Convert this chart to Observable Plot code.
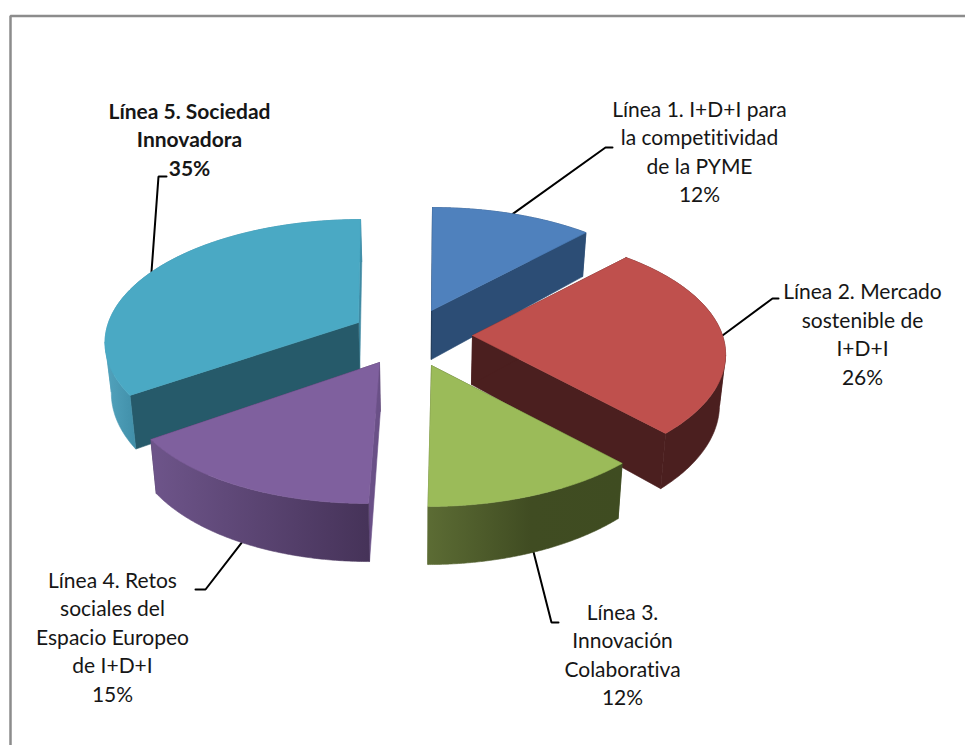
<!DOCTYPE html>
<html><head><meta charset="utf-8">
<script src="https://cdn.jsdelivr.net/npm/d3@7"></script>
<script src="https://cdn.jsdelivr.net/npm/@observablehq/plot@0.6"></script>
<style>html,body{margin:0;padding:0;background:#fff;overflow:hidden} svg text{font-variant-ligatures:none}</style>
</head><body><div id="chart"></div>
<script>
// Chart values
const lineas = [
  "Línea 1. I+D+I para\nla competitividad\nde la PYME",
  "Línea 2. Mercado\nsostenible de\nI+D+I",
  "Línea 3.\nInnovación\nColaborativa",
  "Línea 4. Retos\nsociales del\nEspacio Europeo\nde I+D+I",
  "Línea 5. Sociedad\nInnovadora"
];
const shares = [12, 26, 12, 15, 35];

// Styling
const topColors = ["#4f81bd", "#bf504d", "#9bbb59", "#7f609e", "#4aa9c4"];
const startWall = ["#1d3554", "#4b1f1f", "#3f4c21", "#6a5087", "#265a6a"];
const endWall   = ["#2c4d75", "#4b1f1f", "#5c6c34", "#463359", "#3f8aa3"];
// horizontal shading of each outer wall: [pixel x, colour] stops
const sideStops = [
  [[430, "#2c4d75"], [590, "#2c4d75"]],
  [[470, "#4b1f1f"], [725, "#4b1f1f"]],
  [[427, "#5c6c34"], [530, "#404c22"], [622, "#3f4c21"]],
  [[155, "#6d5489"], [367, "#463359"]],
  [[105, "#52a3bd"], [139, "#3e8ca6"]]
];

// Pie layout (pixels on identity scales)
const apexX = [431, 472, 431, 379, 358];
const apexY = [310, 335, 365, 362, 322];
const leanX = [-0.01, 0.0, -0.025, -0.078, -0.02];
const startNudge = [0, 0, 0, 0, 0.035]; // radians
const drawOrder = [0, 4, 1, 3, 2];
const RX = 250, RY = 119, PERSP = 0.156, DEPTH = 49, VX = 420, CONVERGE = 0.02;
const labelX = [699, 862, 622, 112, 189];
const labelY = [150, 332.5, 653, 635, 137.5];
const elbows = [[[605,147],[612,147]], [[772,298],[778,298]], [[551,622],[558,622]], [[205,589],[195,589]], [[158,176],[166,176]]];

const total = d3.sum(shares);
const deg = d3.cumsum([0, ...shares]).map(v => v / total * 2 * Math.PI);

function project(i, t, bottom) {
  const s = 1 / (1 + PERSP * Math.cos(t));
  const dy = -RY * Math.cos(t) * s;
  let x = apexX[i] + RX * Math.sin(t) * s + leanX[i] * dy;
  let y = apexY[i] + dy;
  if (bottom) { x -= (x - VX) * CONVERGE; y += DEPTH * s; }
  return [x, y];
}
function apex(i, bottom) {
  const x = apexX[i], y = apexY[i];
  return bottom ? [x - (x - VX) * CONVERGE, y + DEPTH] : [x, y];
}

const polyMark = (pts, color) => Plot.line([...pts, pts[0]], {
  x: p => p[0], y: p => p[1], fill: color, stroke: color, strokeWidth: 0.6, strokeLinejoin: "round"
});

// The outer wall is cut where the rim turns horizontally, so no piece folds over itself
function wallPieces(i, top, bot) {
  const cuts = [0];
  for (let k = 1; k < top.length - 1; k++) {
    if ((top[k][0] - top[k-1][0]) * (top[k+1][0] - top[k][0]) <= 0) cuts.push(k);
  }
  cuts.push(top.length - 1);
  return d3.pairs(cuts).map(([p, q]) =>
    polyMark([...top.slice(p, q + 1), ...bot.slice(p, q + 1).reverse()], `url(#side${i})`));
}

const sliceMarks = drawOrder.flatMap(i => {
  const a0 = deg[i] + startNudge[i], a1 = deg[i + 1];
  const arc = b => d3.range(0, 121).map(k => project(i, a0 + (a1 - a0) * k / 120, b));
  return [
    polyMark([apex(i,false), project(i,a1,false), project(i,a1,true), apex(i,true)], endWall[i]),
    polyMark([apex(i,false), project(i,a0,false), project(i,a0,true), apex(i,true)], startWall[i]),
    ...wallPieces(i, arc(false), arc(true)),
    polyMark([apex(i,false), ...arc(false)], topColors[i])
  ];
});

// Leader lines: from each slice's outer edge at mid-angle to its elbow
const leaders = [];
shares.forEach((_, i) => {
  const mid = (deg[i] + deg[i + 1]) / 2;
  const p = project(i, mid, i === 2 || i === 3);
  [p, ...elbows[i]].forEach(q => leaders.push({i, x: q[0], y: q[1]}));
});

const labels = lineas.map((t, i) => ({text: t + "\n" + shares[i] + "%", x: labelX[i], y: labelY[i], bold: i === 4}));
const frame = [{x: 10, y: 745}, {x: 10, y: 15.5}, {x: 965, y: 15.5}];

const chart = Plot.plot({
  width: 965, height: 745, margin: 0,
  x: {domain: [0, 965], range: [0, 965], axis: null},
  y: {domain: [0, 745], range: [0, 745], axis: null},
  style: {background: "#fff"},
  marks: [
    Plot.line(frame, {x: "x", y: "y", stroke: "#8c8c8c", strokeWidth: 2.5, strokeLinejoin: "miter"}),
    Plot.line(leaders, {x: "x", y: "y", z: "i", stroke: "#000", strokeWidth: 2, strokeLinejoin: "miter"}),
    ...sliceMarks,
    ...[false, true].map(b => Plot.text(labels.filter(d => d.bold === b), {
      x: "x", y: "y", text: "text", textAnchor: "middle", lineAnchor: "middle", lineHeight: 1.36,
      fontFamily: "Lato", fontSize: 21, fontWeight: b ? 700 : 400, fill: "#161616"
    }))
  ]
});
const defs = d3.select(chart).insert("defs", ":first-child");
sideStops.forEach((stops, i) => {
  const x0 = stops[0][0], x1 = stops[stops.length - 1][0];
  const g = defs.append("linearGradient").attr("id", `side${i}`).attr("gradientUnits", "userSpaceOnUse")
    .attr("x1", x0).attr("x2", x1).attr("y1", 0).attr("y2", 0);
  stops.forEach(([x, c]) => g.append("stop").attr("offset", (x - x0) / (x1 - x0)).attr("stop-color", c));
});
document.getElementById("chart").appendChild(chart);
</script></body></html>
